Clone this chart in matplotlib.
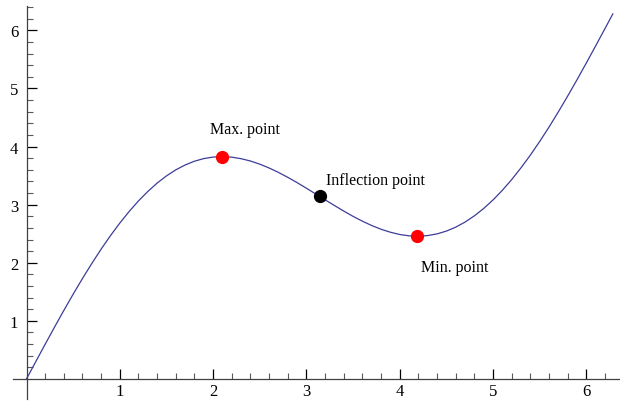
import matplotlib
matplotlib.use("Agg")
import matplotlib.pyplot as plt
import numpy as np
from matplotlib.ticker import FixedLocator

# curve points
x_vals = [0.0, 0.1, 0.2, 0.3, 0.4, 0.5, 0.6, 0.7, 0.8, 0.9, 1.0, 1.1, 1.2,
          1.3, 1.4, 1.5, 1.6, 1.7, 1.8, 1.9, 2.0, 2.1, 2.2, 2.3, 2.4, 2.5,
          2.6, 2.7, 2.8, 2.9, 3.0, 3.1, 3.2, 3.3, 3.4, 3.5, 3.6, 3.7, 3.8,
          3.9, 4.0, 4.1, 4.2, 4.3, 4.4, 4.5, 4.6, 4.7, 4.8, 4.9, 5.0, 5.1,
          5.2, 5.3, 5.4, 5.5, 5.6, 5.7, 5.8, 5.9, 6.0, 6.1, 6.2, 6.283]
y_vals = [0.0, 0.300, 0.597, 0.891, 1.179, 1.459, 1.729, 1.988, 2.235, 2.467,
          2.683, 2.882, 3.064, 3.227, 3.371, 3.495, 3.599, 3.683, 3.748, 3.793,
          3.819, 3.826, 3.817, 3.791, 3.751, 3.697, 3.631, 3.555, 3.470, 3.379,
          3.282, 3.183, 3.083, 2.985, 2.889, 2.798, 2.715, 2.640, 2.576, 2.525,
          2.486, 2.463, 2.457, 2.468, 2.497, 2.545, 2.613, 2.700, 2.808, 2.935,
          3.082, 3.248, 3.433, 3.636, 3.854, 4.089, 4.337, 4.599, 4.871, 5.152,
          5.441, 5.736, 6.034, 6.283]

# special points
extrema_x = [2.094, 4.189]
extrema_y = [3.826, 2.457]
inflection_x = [3.142]
inflection_y = [3.142]

labels = ["Max. point", "Inflection point", "Min. point"]
label_x = [2.34, 3.74, 4.59]
label_y = [4.30, 3.43, 1.93]

plt.rcParams['font.family'] = ['Liberation Serif', 'DejaVu Serif']

fig = plt.figure(figsize=(6.2, 4.02), dpi=100)
ax = fig.add_axes([0, 0, 1, 1])
ax.patch.set_alpha(0)

ax.plot(x_vals, y_vals, color='#3d3d99', lw=0.9)
ax.plot(extrema_x, extrema_y, 'o', color='red', ms=8.5, mec='red', zorder=3)
ax.plot(inflection_x, inflection_y, 'o', color='black', ms=8.5, zorder=3)

for t, lx, ly in zip(labels, label_x, label_y):
    ax.text(lx, ly, t, ha='center', va='center', fontsize=11.5)

ax.set_xlim(-0.284, 6.36)
ax.set_ylim(-0.38, 6.54)

for s in ['top', 'right']:
    ax.spines[s].set_visible(False)
ax.spines['left'].set_position(('data', 0))
ax.spines['bottom'].set_position(('data', 0))
ax.spines['left'].set_bounds(-0.34, 6.42)
ax.spines['bottom'].set_bounds(-0.145, 6.36)
for s in ['left', 'bottom']:
    ax.spines[s].set_color('0.25')
    ax.spines[s].set_linewidth(0.9)

ax.set_xticks([1, 2, 3, 4, 5, 6])
ax.set_yticks([1, 2, 3, 4, 5, 6])
ax.xaxis.set_minor_locator(FixedLocator(np.arange(0.2, 6.3, 0.2)))
ax.yaxis.set_minor_locator(FixedLocator(np.arange(0.2, 6.5, 0.2)))
ax.tick_params(which='major', direction='in', length=7, width=0.9,
               color='black', labelsize=12)
ax.tick_params(axis='x', which='major', pad=3)
ax.tick_params(axis='y', which='major', pad=6)
ax.tick_params(which='minor', direction='in', length=4, width=0.8, color='0.35')

fig.savefig("out.png", dpi=100)
